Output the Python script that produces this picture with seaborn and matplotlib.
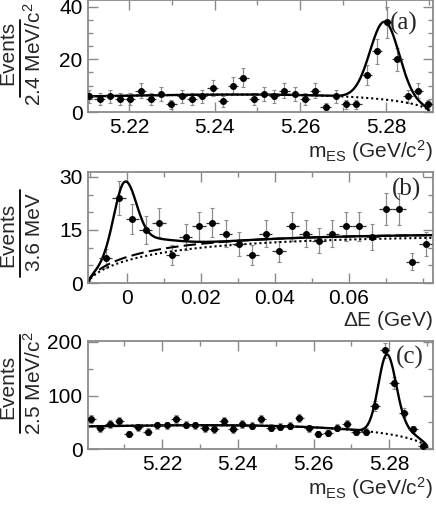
import numpy as np
import matplotlib
matplotlib.use("Agg")
import matplotlib.pyplot as plt
from matplotlib.lines import Line2D
import seaborn as sns

# ---- panel (a): mES, 2.4 MeV/c^2 bins ----
a_first, a_width = 5.2107, 0.0024
a_counts = [6, 5, 6, 5, 5, 8, 5, 7, 3, 6, 5, 6, 9, 4, 10, 13, 5, 7, 6, 8,
            7, 5, 8, 2, 6, 3, 3, 14, 23, 34, 20, 6, 8, 3]
a_bkg = dict(level=6.6, ref=5.24, m0=5.29, c=-30.0)
a_sig = dict(mu=5.2797, sigma=0.0034, amp=29.5)

# ---- panel (b): Delta E, 3.6 MeV bins ----
b_first, b_width = -0.0057, 0.0036
b_counts = [7, 24, 18, 15, 17, 8, 13, 16, 17, 14, 11, 8, 14, 9, 16, 14, 12,
            14, 16, 16, 13, 21, 21, 6, 11]
b_threshold = -0.0105
b_comb = dict(B=13.5, tau=0.020, p=0.7)      # dotted
b_bbkg = dict(B=14.0, tau=0.016, p=0.7)      # dashed (all background)
b_sig = dict(mu=-0.0005, sigma=0.0030, amp=17.0, tail_amp=4.5, tail_sr=0.010)

# ---- panel (c): mES, 2.5 MeV/c^2 bins ----
c_first, c_width = 5.20125, 0.0025
c_counts = [56, 39, 47, 53, 28, 41, 33, 45, 45, 57, 46, 45, 39, 37, 53, 37,
            47, 44, 56, 40, 42, 44, 58, 39, 28, 30, 40, 47, 32, 33, 81, 184,
            123, 68, 37, 7]
c_bkg = dict(level=44.5, ref=5.24, m0=5.29, c=-22.0)
c_sig = dict(mu=5.2794, sigma=0.0023, amp=120.0, tail_amp=28.0, tail_sr=0.005)

mes_ticks = [5.22, 5.24, 5.26, 5.28]
de_ticks = [0, 0.02, 0.04, 0.06]
de_ticklabels = ["0", "0.02", "0.04", "0.06"]


def argus(m, m0, c):
    z = np.clip(1 - (m / m0) ** 2, 0, None)
    return m * np.sqrt(z) * np.exp(c * z)


def argus_bkg(m, level, ref, m0, c):
    return level * argus(m, m0, c) / argus(np.array(ref), m0, c)


def gauss(x, mu, s):
    return np.exp(-0.5 * ((x - mu) / s) ** 2)


def bifur(x, mu, sl, sr):
    s = np.where(x < mu, sl, sr)
    return np.exp(-0.5 * ((x - mu) / s) ** 2)


def threshold(x, B, tau, p):
    d = np.clip(x - b_threshold, 0, None)
    return B * (1 - np.exp(-(d / tau) ** p))


sns.set_theme(style="ticks")
plt.rcParams["font.family"] = ["Liberation Sans", "DejaVu Sans"]
plt.rcParams["mathtext.fontset"] = "custom"
plt.rcParams["mathtext.rm"] = "Liberation Sans"
plt.rcParams["mathtext.it"] = "Liberation Sans:italic"

FS = 15
GREY = "#8a8a8a"

fig = plt.figure(figsize=(4.36, 5.05), dpi=100)
ax_a = fig.add_axes([0.2018, 0.7782, 0.7913, 0.2218])
ax_b = fig.add_axes([0.2018, 0.4396, 0.7913, 0.2198])
ax_c = fig.add_axes([0.2018, 0.1103, 0.7913, 0.2150])


def draw_points(ax, first, width, counts):
    x = first + width * np.arange(len(counts))
    y = np.array(counts, dtype=float)
    ax.errorbar(x, y, yerr=np.sqrt(y), fmt="none", ecolor="#8c8c8c",
                elinewidth=0.9, capsize=1.5, capthick=0.8, zorder=2)
    ax.errorbar(x, y, xerr=width / 2, fmt="o", ms=4, color="black",
                ecolor="#333333", elinewidth=0.9, zorder=3)


def style_axes(ax, xlim, ylim, xmaj, xmin, ymaj, ymin):
    ax.set_xlim(*xlim)
    ax.set_ylim(*ylim)
    ax.xaxis.set_major_locator(matplotlib.ticker.MultipleLocator(xmaj))
    ax.xaxis.set_minor_locator(matplotlib.ticker.MultipleLocator(xmin))
    ax.yaxis.set_major_locator(matplotlib.ticker.MultipleLocator(ymaj))
    ax.yaxis.set_minor_locator(matplotlib.ticker.MultipleLocator(ymin))
    for s in ax.spines.values():
        s.set_color(GREY)
        s.set_linewidth(1.3)
    ax.tick_params(which="both", direction="in", top=True, right=True,
                   color=GREY, labelsize=FS, labelcolor="black")
    ax.tick_params(which="major", length=7, width=1.0, pad=4)
    ax.tick_params(which="minor", length=3.5, width=1.0)


# panel (a)
draw_points(ax_a, a_first, a_width, a_counts)
xa = np.linspace(5.21, 5.29, 800)
bk_a = argus_bkg(xa, **a_bkg)
tot_a = bk_a + a_sig["amp"] * gauss(xa, a_sig["mu"], a_sig["sigma"])
sns.lineplot(x=xa, y=bk_a, ax=ax_a, color="black", lw=1.5, linestyle=(0, (1.0, 1.4)))
sns.lineplot(x=xa, y=tot_a, ax=ax_a, color="black", lw=1.7)
style_axes(ax_a, (5.2104, 5.291), (0, 42.5), 0.02, 0.01, 20, 5)
ax_a.set_xticks(mes_ticks)
ax_a.set_xticklabels(["%.2f" % t for t in mes_ticks])
ax_a.set_xlabel(r"m$_{\mathrm{ES}}$ (GeV/c$^{2}$)", fontsize=FS, loc="right", labelpad=1)

# panel (b)
draw_points(ax_b, b_first, b_width, b_counts)
xb = np.linspace(-0.0105, 0.0827, 800)
comb_b = threshold(xb, **b_comb)
allbk_b = threshold(xb, **b_bbkg)
sig_b = (b_sig["amp"] * gauss(xb, b_sig["mu"], b_sig["sigma"])
         + b_sig["tail_amp"] * bifur(xb, b_sig["mu"], b_sig["sigma"], b_sig["tail_sr"]))
sns.lineplot(x=xb, y=comb_b, ax=ax_b, color="black", lw=1.5, linestyle=(0, (1.0, 1.4)))
sns.lineplot(x=xb, y=allbk_b, ax=ax_b, color="black", lw=1.5, linestyle=(0, (6, 2.5)))
sns.lineplot(x=xb, y=allbk_b + sig_b, ax=ax_b, color="black", lw=1.7)
style_axes(ax_b, (-0.0105, 0.0827), (0, 31.4), 0.02, 0.01, 15, 5)
ax_b.set_xticks(de_ticks)
ax_b.set_xticklabels(de_ticklabels)
ax_b.set_xlabel(r"$\Delta$E (GeV)", fontsize=FS, loc="right", labelpad=1)

# panel (c)
draw_points(ax_c, c_first, c_width, c_counts)
xc = np.linspace(5.20, 5.29, 800)
bk_c = argus_bkg(xc, **c_bkg)
sig_c = (c_sig["amp"] * gauss(xc, c_sig["mu"], c_sig["sigma"])
         + c_sig["tail_amp"] * bifur(xc, c_sig["mu"], c_sig["sigma"], c_sig["tail_sr"]))
sns.lineplot(x=xc, y=bk_c, ax=ax_c, color="black", lw=1.5, linestyle=(0, (1.0, 1.4)))
sns.lineplot(x=xc, y=bk_c + sig_c, ax=ax_c, color="black", lw=1.7)
style_axes(ax_c, (5.2005, 5.2915), (0, 202), 0.02, 0.01, 100, 50)
ax_c.set_xticks(mes_ticks)
ax_c.set_xticklabels(["%.2f" % t for t in mes_ticks])
ax_c.set_xlabel(r"m$_{\mathrm{ES}}$ (GeV/c$^{2}$)", fontsize=FS, loc="right", labelpad=1)

for ax in (ax_a, ax_b, ax_c):
    ax.set_ylabel("")
    ax.yaxis.set_major_formatter(matplotlib.ticker.FormatStrFormatter("%g"))

# panel letters (pixel centres)
W, H = 436.0, 505.0
for txt, px, py in [("(a)", 404, 23), ("(b)", 406, 189), ("(c)", 410, 357)]:
    fig.text(px / W, 1 - py / H, txt, fontsize=18, family="Liberation Serif",
             ha="center", va="center")

# fraction-style y labels: (events centre, line top, line bottom, denominator centre)
ylabels = [("2.4 MeV/c$^{2}$", 53, 20, 97, 54),
           ("3.6 MeV", 235, 190, 277, 232),
           ("2.5 MeV/c$^{2}$", 387, 335, 433, 383)]
for denom, ev_y, l0, l1, d_y in ylabels:
    fig.text(8 / W, 1 - ev_y / H, "Events", rotation=90, fontsize=FS,
             ha="center", va="center")
    fig.add_artist(Line2D([20 / W, 20 / W], [1 - l0 / H, 1 - l1 / H],
                          transform=fig.transFigure, color="black", lw=1.3))
    fig.text(34 / W, 1 - d_y / H, denom, rotation=90, fontsize=FS,
             ha="center", va="center")

fig.savefig("out.png", dpi=100)
